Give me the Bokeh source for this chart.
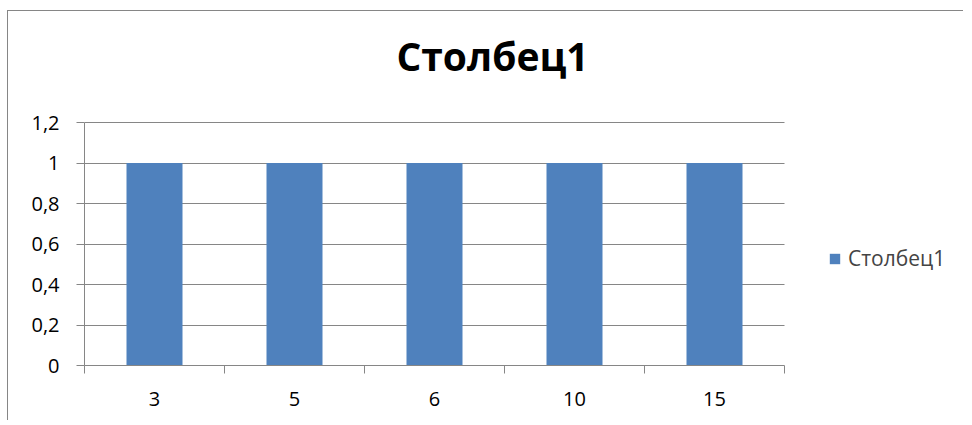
from bokeh.plotting import figure
from bokeh.models import FixedTicker, Legend, LegendItem, ColumnDataSource, Label
from bokeh.embed import file_html
from bokeh.resources import INLINE
import numpy as np

categories = ["3", "5", "6", "10", "15"]
values = [1, 1, 1, 1, 1]
series_name = "Столбец1"
chart_title = "Столбец1"
y_ticks = [0, 0.2, 0.4, 0.6, 0.8, 1.0, 1.2]
y_tick_labels = ["0", "0,2", "0,4", "0,6", "0,8", "1", "1,2"]

FONT = "Open Sans"
GRAY = "#868686"
BLUE = "#4F81BD"

# layout (pixels)
PLOT_W, PLOT_H = 956, 410
LEFT, BOTTOM = 76, 56
AREA_W, AREA_H = 700, 243          # size of the value area (categories x 0..1.2)
FRAME_W, FRAME_H = PLOT_W - LEFT, PLOT_H - BOTTOM

n = len(categories)
y_max = y_ticks[-1]
x_pos = np.arange(n) + 0.5
src = ColumnDataSource(dict(x=x_pos, top=values))

p = figure(width=PLOT_W, height=PLOT_H, output_backend="svg", toolbar_location=None, title=None,
           x_range=(0, n * FRAME_W / AREA_W), y_range=(0, y_max * FRAME_H / AREA_H),
           min_border_left=LEFT, min_border_right=0, min_border_top=0, min_border_bottom=BOTTOM)
p.styles = {"border-left": f"1px solid {GRAY}", "border-top": f"1px solid {GRAY}",
            "margin-left": "7px", "margin-top": "10px"}
p.outline_line_color = None
p.background_fill_color = "white"
p.border_fill_color = "white"

r = p.vbar(x="x", top="top", width=0.4, bottom=0, source=src, fill_color=BLUE, line_color=None)

# Chart title
p.add_layout(Label(x=408, y=310, x_units="screen", y_units="screen", text=chart_title,
                   text_font=FONT, text_font_size="39px", text_font_style="bold",
                   text_color="black", text_align="center", text_baseline="alphabetic"))

# Y axis
p.yaxis.ticker = FixedTicker(ticks=y_ticks)
p.yaxis.bounds = (0, y_max)
p.yaxis.major_label_overrides = {t: l for t, l in zip(y_ticks, y_tick_labels)}
p.yaxis.axis_line_color = GRAY
p.yaxis.major_tick_line_color = GRAY
p.yaxis.major_tick_out = 8
p.yaxis.major_tick_in = 0
p.yaxis.minor_tick_line_color = None
p.yaxis.major_label_standoff = 17
p.yaxis.major_label_text_font = FONT
p.yaxis.major_label_text_font_size = "20px"
p.yaxis.major_label_text_color = "black"

# X axis: labels at centers, ticks at boundaries
p.xaxis.ticker = FixedTicker(ticks=list(x_pos), minor_ticks=list(range(n + 1)))
p.xaxis.bounds = (0, n)
p.xaxis.major_label_overrides = {float(t): c for t, c in zip(x_pos, categories)}
p.xaxis.axis_line_color = GRAY
p.xaxis.major_tick_line_color = None
p.xaxis.major_tick_out = 8
p.xaxis.minor_tick_line_color = GRAY
p.xaxis.minor_tick_out = 8
p.xaxis.minor_tick_in = 0
p.xaxis.major_label_standoff = 18
p.xaxis.major_label_text_font = FONT
p.xaxis.major_label_text_font_size = "20px"
p.xaxis.major_label_text_color = "black"

p.xgrid.grid_line_color = None
p.ygrid.ticker = FixedTicker(ticks=y_ticks)
p.ygrid.cross_bounds = (0, n)
p.ygrid.grid_line_color = GRAY

legend = Legend(items=[LegendItem(label=series_name, renderers=[r])],
                location=(744, 93), orientation="vertical",
                glyph_width=13, glyph_height=13, label_standoff=7,
                padding=0, margin=0, spacing=0,
                label_text_font=FONT, label_text_font_size="21px",
                border_line_color=None, background_fill_alpha=0)
p.add_layout(legend, "center")

open("out.html", "w").write(file_html(p, INLINE))
